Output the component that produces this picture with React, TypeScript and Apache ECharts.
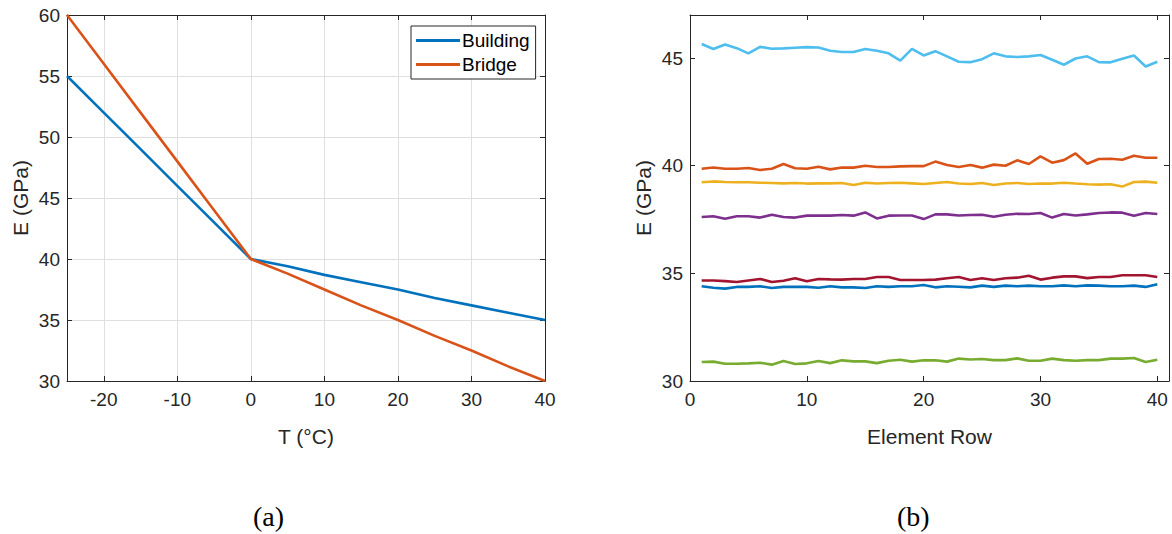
import React, { useEffect, useRef } from "react";
import * as echarts from "echarts";

// Panel (a): E vs T
const temps = [-25, -20, -15, -10, -5, 0, 5, 10, 15, 20, 25, 30, 35, 40];
const building = [55, 52, 49, 46, 43, 40, 39.4, 38.7, 38.1, 37.5, 36.8, 36.2, 35.6, 35];
const bridge = [60, 56, 52, 48, 44, 40, 38.8, 37.5, 36.2, 35, 33.7, 32.5, 31.2, 30];

// Panel (b): E by element row
const rows = Array.from({ length: 40 }, (_, i) => i + 1);
const lightBlue = [45.65, 45.42, 45.63, 45.46, 45.22, 45.52, 45.43, 45.45, 45.48, 45.51, 45.49, 45.34, 45.28, 45.28, 45.42, 45.34, 45.22, 44.88, 45.43, 45.12, 45.32, 45.08, 44.83, 44.81, 44.95, 45.22, 45.08, 45.05, 45.08, 45.14, 44.92, 44.69, 44.98, 45.08, 44.81, 44.8, 44.97, 45.12, 44.61, 44.83];
const orange = [39.86, 39.92, 39.86, 39.86, 39.89, 39.8, 39.86, 40.08, 39.88, 39.86, 39.95, 39.83, 39.92, 39.91, 40.0, 39.94, 39.94, 39.97, 39.98, 39.98, 40.19, 40.03, 39.94, 40.03, 39.91, 40.05, 40.0, 40.25, 40.08, 40.43, 40.14, 40.26, 40.57, 40.09, 40.31, 40.32, 40.28, 40.46, 40.37, 40.37];
const yellow = [39.23, 39.27, 39.24, 39.23, 39.23, 39.21, 39.2, 39.18, 39.2, 39.17, 39.18, 39.18, 39.2, 39.1, 39.21, 39.17, 39.2, 39.21, 39.18, 39.15, 39.2, 39.24, 39.17, 39.15, 39.2, 39.1, 39.17, 39.2, 39.15, 39.17, 39.17, 39.21, 39.17, 39.14, 39.12, 39.14, 39.03, 39.24, 39.26, 39.21];
const purple = [37.62, 37.65, 37.54, 37.65, 37.65, 37.59, 37.72, 37.62, 37.59, 37.68, 37.68, 37.68, 37.71, 37.68, 37.83, 37.55, 37.68, 37.69, 37.69, 37.52, 37.74, 37.74, 37.69, 37.71, 37.72, 37.63, 37.72, 37.77, 37.76, 37.8, 37.59, 37.76, 37.69, 37.74, 37.8, 37.83, 37.82, 37.68, 37.8, 37.76];
const crimson = [34.67, 34.67, 34.64, 34.6, 34.67, 34.74, 34.6, 34.66, 34.77, 34.63, 34.74, 34.72, 34.71, 34.74, 34.74, 34.83, 34.83, 34.69, 34.69, 34.69, 34.71, 34.77, 34.83, 34.69, 34.77, 34.69, 34.77, 34.8, 34.89, 34.71, 34.8, 34.86, 34.86, 34.78, 34.83, 34.83, 34.91, 34.91, 34.91, 34.83];
const blue = [34.4, 34.33, 34.29, 34.37, 34.37, 34.4, 34.32, 34.37, 34.37, 34.37, 34.33, 34.4, 34.35, 34.35, 34.32, 34.4, 34.37, 34.4, 34.4, 34.46, 34.35, 34.4, 34.38, 34.35, 34.43, 34.37, 34.43, 34.4, 34.43, 34.4, 34.4, 34.44, 34.4, 34.44, 34.43, 34.4, 34.4, 34.43, 34.37, 34.49];
const green = [30.88, 30.9, 30.8, 30.8, 30.82, 30.85, 30.76, 30.93, 30.79, 30.82, 30.93, 30.83, 30.96, 30.91, 30.91, 30.83, 30.94, 30.99, 30.9, 30.96, 30.96, 30.9, 31.04, 31.0, 31.02, 30.97, 30.97, 31.05, 30.94, 30.94, 31.04, 30.97, 30.94, 30.97, 30.97, 31.04, 31.04, 31.07, 30.88, 30.99];

const AX = "#262626";
const GRIDC = "#dfdfdf";
const FONT = "Liberation Sans, Arial, sans-serif";
const SERIF = "Liberation Serif, Times New Roman, serif";

function zip(xs: number[], ys: number[]) {
  return xs.map((x, i) => [x, ys[i]]);
}

export default function App() {
  const ref = useRef<HTMLDivElement>(null);
  useEffect(() => {
    if (!ref.current) return;
    const chart = echarts.init(ref.current, undefined, { renderer: "svg" });
    const label = { color: AX, fontSize: 19, fontFamily: FONT };
    const tick = (show: boolean) => ({ show, inside: true, length: 5, lineStyle: { color: AX } });
    const line = { show: true, onZero: false, lineStyle: { color: AX, width: 1 } };
    const nameStyle = { color: AX, fontSize: 21, fontFamily: FONT };

    const mainX = (gi: number, min: number, max: number, grid: boolean, name: string, extra: any) => ({
      type: "value",
      gridIndex: gi,
      min,
      max,
      position: "bottom",
      axisLine: line,
      axisTick: tick(true),
      axisLabel: { ...label, margin: 9, showMaxLabel: gi === 1 ? false : true, showMinLabel: gi === 0 ? false : true },
      splitLine: { show: grid, lineStyle: { color: GRIDC, width: 1 } },
      name,
      nameLocation: "middle",
      nameGap: 45,
      nameTextStyle: nameStyle,
      ...extra,
    });
    const topX = (gi: number, min: number, max: number, extra: any) => ({
      type: "value",
      gridIndex: gi,
      min,
      max,
      position: "top",
      axisLine: line,
      axisTick: tick(true),
      axisLabel: { show: false },
      splitLine: { show: false },
      ...extra,
    });
    const mainY = (gi: number, min: number, max: number, grid: boolean) => ({
      type: "value",
      gridIndex: gi,
      min,
      max,
      interval: 5,
      position: "left",
      axisLine: line,
      axisTick: tick(true),
      axisLabel: { ...label, margin: 7, showMaxLabel: gi === 1 ? false : true },
      splitLine: { show: grid, lineStyle: { color: GRIDC, width: 1 } },
      name: "E (GPa)",
      nameLocation: "middle",
      nameGap: 36,
      nameTextStyle: nameStyle,
    });
    const rightY = (gi: number, min: number, max: number) => ({
      type: "value",
      gridIndex: gi,
      min,
      max,
      interval: 5,
      position: "right",
      axisLine: line,
      axisTick: tick(true),
      axisLabel: { show: false },
      splitLine: { show: false },
    });

    const s = (name: string, data: number[][], color: string, xi: number, yi: number) => ({
      type: "line",
      name,
      data,
      xAxisIndex: xi,
      yAxisIndex: yi,
      showSymbol: false,
      symbol: "none",
      lineStyle: { color, width: 2.6 },
      itemStyle: { color },
    });

    chart.setOption({
      animation: false,
      backgroundColor: "#fff",
      grid: [
        { left: 67, top: 15, width: 478, height: 366, containLabel: false },
        { left: 690, top: 15, width: 479, height: 366, containLabel: false },
      ],
      xAxis: [
        mainX(0, -25, 40, true, "T (\u00b0C)", {}),
        topX(0, -25, 40, {}),
        mainX(1, 0, 41, false, "Element Row", { interval: 10 }),
        topX(1, 0, 41, { interval: 10 }),
      ],
      yAxis: [mainY(0, 30, 60, true), rightY(0, 30, 60), mainY(1, 30, 47, false), rightY(1, 30, 47)],
      legend: {
        data: ["Building", "Bridge"],
        orient: "vertical",
        left: 411,
        top: 26,
        padding: [5, 6, 5, 5],
        itemWidth: 44,
        itemHeight: 3,
        itemGap: 5,
        icon: "rect",
        backgroundColor: "#fff",
        borderColor: AX,
        borderWidth: 1,
        borderRadius: 0,
        textStyle: { color: "#000", fontSize: 19, fontFamily: FONT, padding: [0, 0, 0, -3] },
      },
      series: [
        s("Building", zip(temps, building), "#0072BD", 0, 0),
        s("Bridge", zip(temps, bridge), "#D95319", 0, 0),
        s("r1", zip(rows, blue), "#0072BD", 2, 2),
        s("r2", zip(rows, orange), "#D95319", 2, 2),
        s("r3", zip(rows, yellow), "#EDB120", 2, 2),
        s("r4", zip(rows, purple), "#7E2F8E", 2, 2),
        s("r5", zip(rows, green), "#77AC30", 2, 2),
        s("r6", zip(rows, lightBlue), "#4DBEEE", 2, 2),
        s("r7", zip(rows, crimson), "#A2142F", 2, 2),
      ],
      graphic: [
        {
          type: "text",
          left: 253,
          top: 502,
          style: { text: "(a)", fontSize: 28, fontFamily: SERIF, fill: "#000" },
        },
        {
          type: "text",
          left: 897,
          top: 502,
          style: { text: "(b)", fontSize: 28, fontFamily: SERIF, fill: "#000" },
        },
      ],
    });
    return () => chart.dispose();
  }, []);
  return <div ref={ref} style={{ position: "fixed", left: 0, top: 0, width: 1172, height: 534, background: "#fff" }} />;
}
